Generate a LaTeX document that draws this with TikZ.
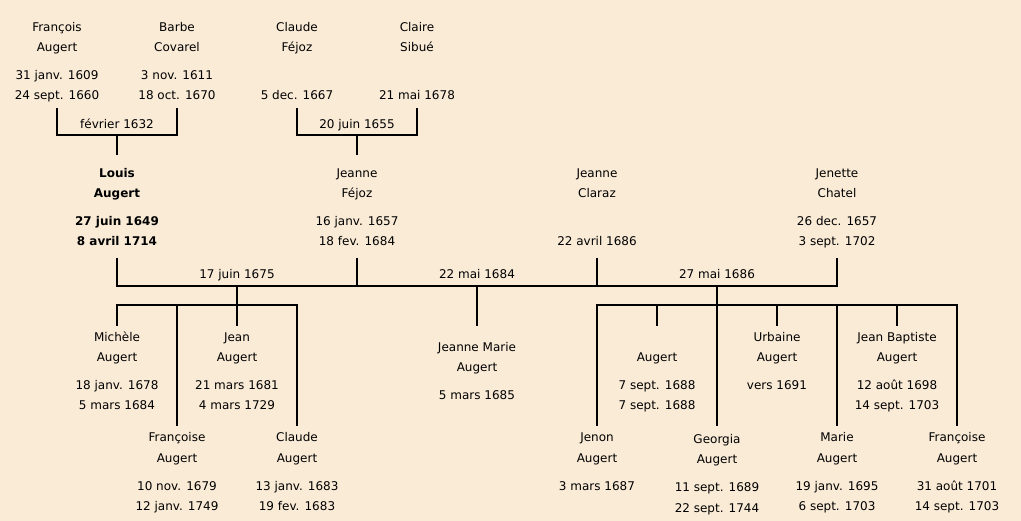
\documentclass[tikz,border=0pt]{standalone}
\usepackage{fontspec}
\setmainfont{DejaVu Sans}
\definecolor{bg}{HTML}{FAEBD7}
\newcommand\pln[4]{\if\relax\detokenize{#4}\relax\else\node[txt] (#1) at (#2,#3) {#4};\fi}
\newcommand\pers[7]{\pln{#1-1}{#2}{#3}{#4}\pln{#1-2}{#2}{#3+20}{#5}\pln{#1-3}{#2}{#3+48}{#6}\pln{#1-4}{#2}{#3+68}{#7}}
\begin{document}
\begin{tikzpicture}[x=1pt,y=-1pt,
  txt/.style={anchor=base,inner sep=0pt,font=\fontsize{12}{14}\selectfont},
  link/.style={line width=2pt,black}]
\fill[bg] (0,0) rectangle (1021,521);
\useasboundingbox (0,0) rectangle (1021,521);
% generation 1
\pers{fa}{57}{32}{François}{Augert}{31 janv. 1609}{24 sept. 1660}
\pers{bc}{177}{32}{Barbe}{Covarel}{3 nov. 1611}{18 oct. 1670}
\pers{cf}{297}{32}{Claude}{Féjoz}{}{5 dec. 1667}
\pers{cs}{417}{32}{Claire}{Sibué}{}{21 mai 1678}
\node[txt] (m1) at (117,129) {février 1632};
\node[txt] (m2) at (357,129) {20 juin 1655};
% generation 2
\pers{la}{117}{178}{\textbf{Louis}}{\textbf{Augert}}{\textbf{27 juin 1649}}{\textbf{8 avril 1714}}
\pers{jf}{357}{178}{Jeanne}{Féjoz}{16 janv. 1657}{18 fev. 1684}
\pers{jc}{597}{178}{Jeanne}{Claraz}{}{22 avril 1686}
\pers{jh}{837}{178}{Jenette}{Chatel}{26 dec. 1657}{3 sept. 1702}
\node[txt] (m3) at (237,279) {17 juin 1675};
\node[txt] (m4) at (477,279) {22 mai 1684};
\node[txt] (m5) at (717,279) {27 mai 1686};
% children
\pers{mi}{117}{342}{Michèle}{Augert}{18 janv. 1678}{5 mars 1684}
\pers{fr}{177}{442}{Françoise}{Augert}{10 nov. 1679}{12 janv. 1749}
\pers{je}{237}{342}{Jean}{Augert}{21 mars 1681}{4 mars 1729}
\pers{cl}{297}{442}{Claude}{Augert}{13 janv. 1683}{19 fev. 1683}
\pers{jm}{477}{352}{Jeanne Marie}{Augert}{5 mars 1685}{}
\pers{jn}{597}{442}{Jenon}{Augert}{3 mars 1687}{}
\pers{au}{657}{342}{}{Augert}{7 sept. 1688}{7 sept. 1688}
\pers{ge}{717}{444}{Georgia}{Augert}{11 sept. 1689}{22 sept. 1744}
\pers{ur}{777}{342}{Urbaine}{Augert}{vers 1691}{}
\pers{ma}{837}{442}{Marie}{Augert}{19 janv. 1695}{6 sept. 1703}
\pers{jb}{897}{342}{Jean Baptiste}{Augert}{12 août 1698}{14 sept. 1703}
\pers{fs}{957}{442}{Françoise}{Augert}{31 août 1701}{14 sept. 1703}
% connector end points
\coordinate (faB) at (57,108);  \coordinate (bcB) at (177,108);
\coordinate (cfB) at (297,108); \coordinate (csB) at (417,108);
\coordinate (m1C) at (117,135.5); \coordinate (laT) at (117,155);
\coordinate (m2C) at (357,135.5); \coordinate (jfT) at (357,155);
\coordinate (laB) at (117,258); \coordinate (jfB) at (357,258);
\coordinate (jcB) at (597,258); \coordinate (jhB) at (837,258);
\coordinate (m3C) at (237,286); \coordinate (m4C) at (477,286); \coordinate (m5C) at (717,286);
\coordinate (b1) at (237,305.5); \coordinate (b2) at (717,305.5);
\coordinate (miT) at (117,326); \coordinate (frT) at (177,426);
\coordinate (jeT) at (237,326); \coordinate (clT) at (297,426);
\coordinate (jmT) at (477,326);
\coordinate (jnT) at (597,426); \coordinate (auT) at (657,326);
\coordinate (geT) at (717,426); \coordinate (urT) at (777,326);
\coordinate (maT) at (837,426); \coordinate (jbT) at (897,326);
\coordinate (fsT) at (957,426);
% connectors
\draw[link] (faB) |- (m1C) -| (bcB);
\draw[link] (m1C) -- (laT);
\draw[link] (cfB) |- (m2C) -| (csB);
\draw[link] (m2C) -- (jfT);
\draw[link] (laB) |- (m3C) -- (m5C) -| (jhB);
\draw[link] (jfB) -- (jfB|-m3C);
\draw[link] (jcB) -- (jcB|-m3C);
\draw[link] (m3C) -- (b1);
\draw[link] (miT) |- (b1) -| (clT);
\draw[link] (frT) -- (frT|-b1);
\draw[link] (jeT) -- (b1);
\draw[link] (m4C) -- (jmT);
\draw[link] (m5C) -- (geT);
\draw[link] (jnT) |- (b2) -| (fsT);
\draw[link] (auT) -- (auT|-b2);
\draw[link] (urT) -- (urT|-b2);
\draw[link] (maT) -- (maT|-b2);
\draw[link] (jbT) -- (jbT|-b2);
\end{tikzpicture}
\end{document}
